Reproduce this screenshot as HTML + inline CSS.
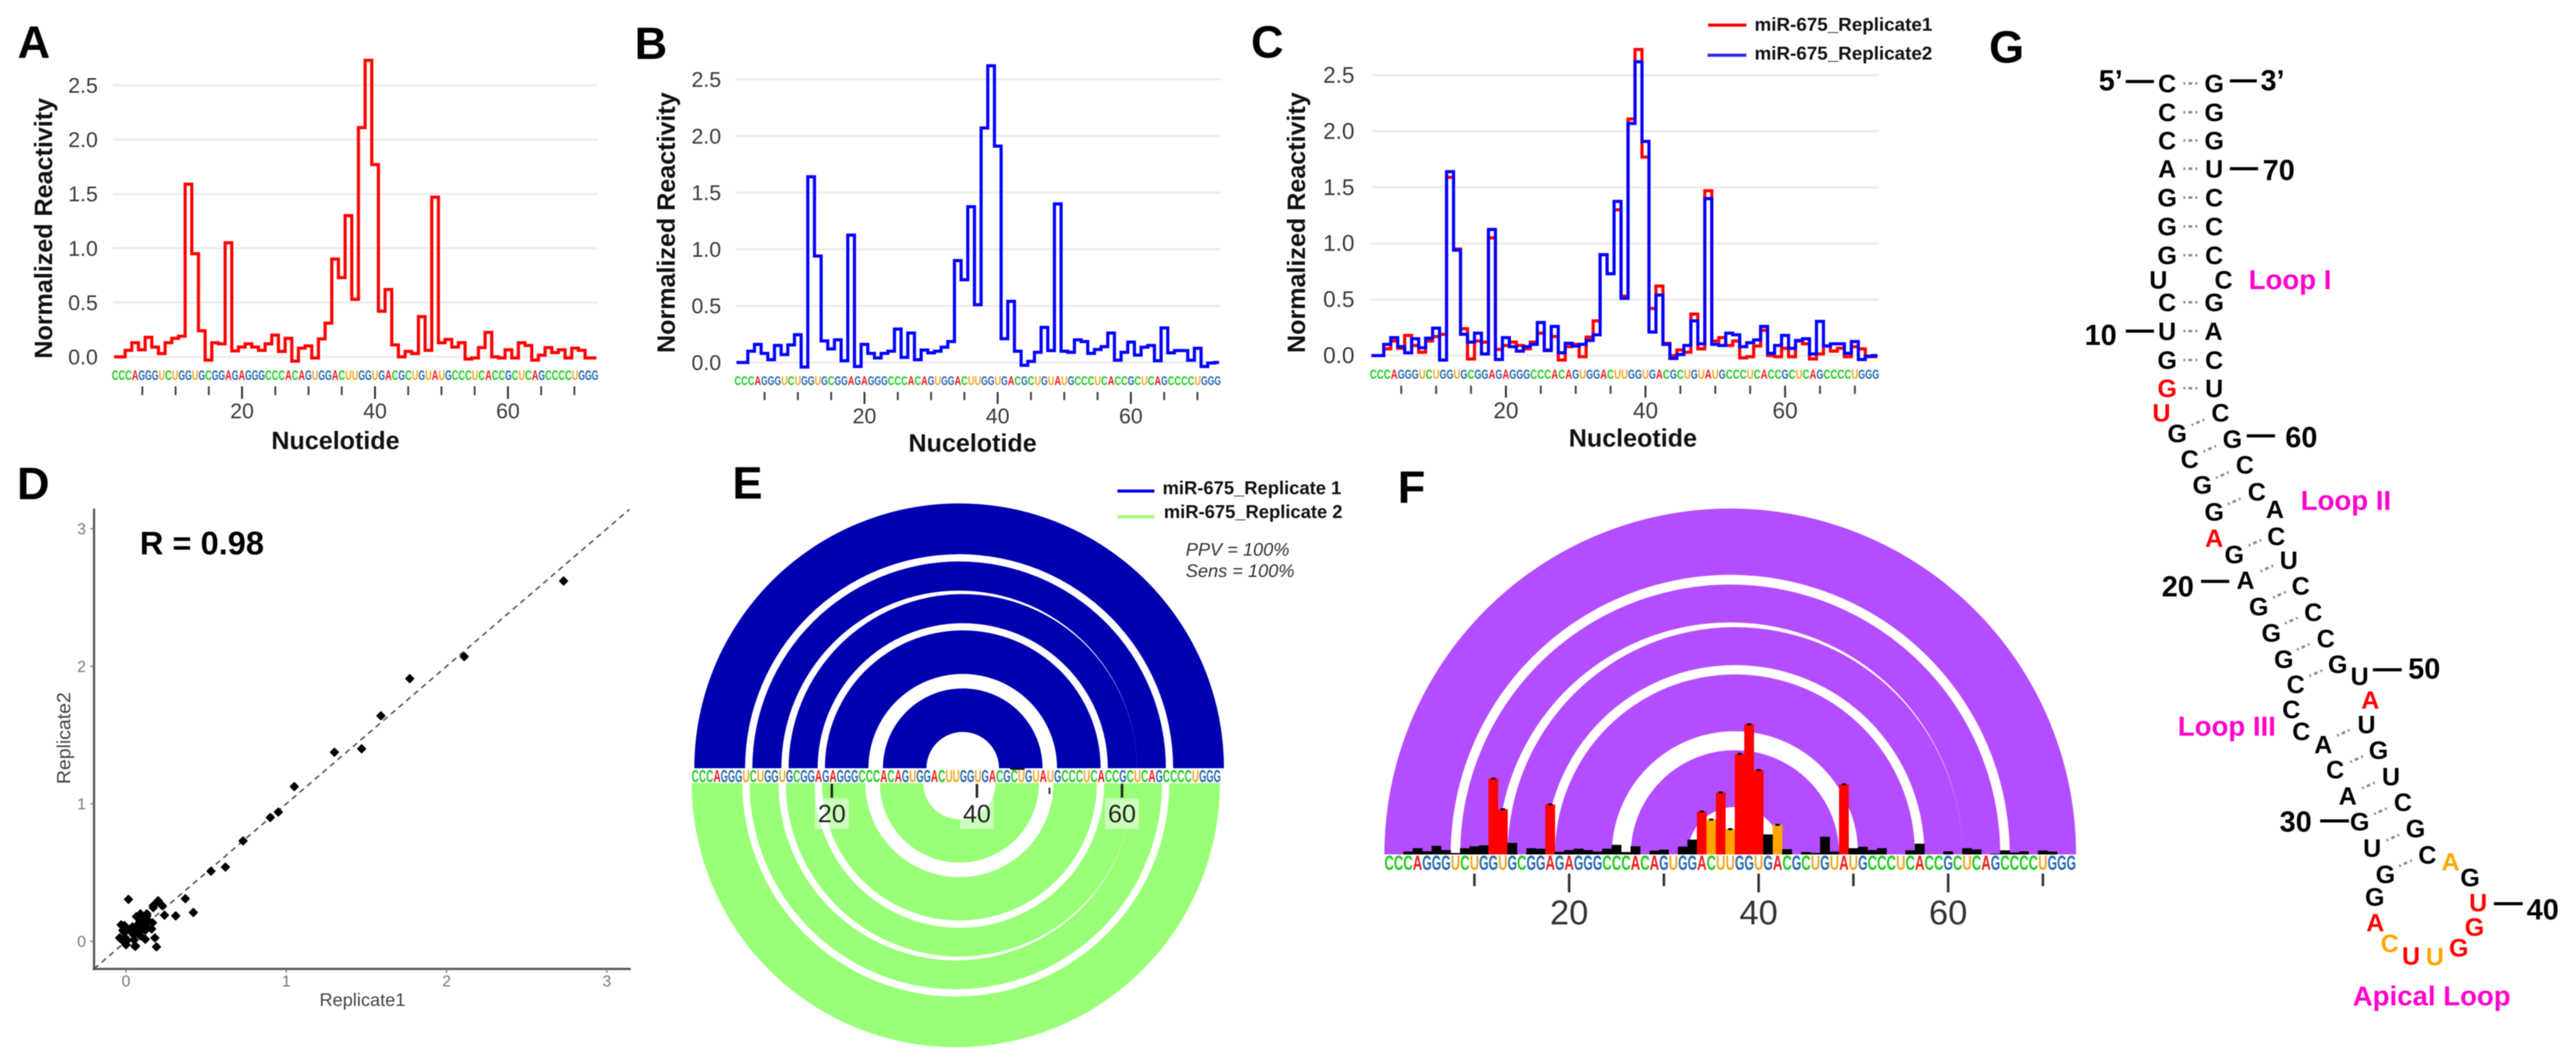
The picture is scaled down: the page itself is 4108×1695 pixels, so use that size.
<!DOCTYPE html>
<html lang="en">
<head>
<meta charset="utf-8">
<title>miR-675 SHAPE reactivity and secondary structure</title>
<style>
html,body{margin:0;padding:0;background:#fff;}
svg{display:block;filter:blur(0.9px);font-family:"Liberation Sans",Arial,sans-serif;}
.panel{font-size:72px;font-weight:bold;fill:#000;}
.title{font-size:40px;font-weight:bold;fill:#111;}
.leg{font-size:30px;font-weight:bold;fill:#111;}
.b{font-size:40px;font-weight:bold;fill:#000;text-anchor:middle;}
.r{fill:#ff0000;}
.o{fill:#ffa500;}
.n{font-size:46px;font-weight:bold;fill:#000;text-anchor:middle;}
.d{stroke:#000;stroke-width:5;}
.p{font-size:44px;font-weight:bold;fill:#ff00cc;}
.bp{stroke:#8a8a8a;stroke-width:4;stroke-dasharray:3 5 6 5 3;}
</style>
</head>
<body>
<svg id="fig" xmlns="http://www.w3.org/2000/svg" width="4108" height="1695" viewBox="0 0 4108 1695">
<rect x="0" y="0" width="4108" height="1695" fill="#fff"/>

<text class="panel" x="28" y="92">A</text>
<text class="panel" x="1012" y="94">B</text>
<text class="panel" x="1995" y="92">C</text>
<text class="panel" x="27" y="796">D</text>
<text class="panel" x="1168" y="795">E</text>
<text class="panel" x="2229" y="802">F</text>
<text class="panel" x="3172" y="100">G</text>

<text class="title" text-anchor="middle" transform="translate(83,364) rotate(-90)">Normalized Reactivity</text>
<text class="title" text-anchor="middle" x="535" y="716">Nucelotide</text>
<text class="title" text-anchor="middle" transform="translate(1076,355) rotate(-90)">Normalized Reactivity</text>
<text class="title" text-anchor="middle" x="1551" y="720">Nucelotide</text>
<text class="title" text-anchor="middle" transform="translate(2081,355) rotate(-90)">Normalized Reactivity</text>
<text class="title" text-anchor="middle" x="2604" y="712">Nucleotide</text>

<g id="panelA"></g>
<g id="panelB"></g>
<g id="panelC"></g>

<g>
<line x1="2724" y1="40" x2="2785" y2="40" stroke="#ff0000" stroke-width="5"/>
<text class="leg" x="2798" y="49">miR-675_Replicate1</text>
<line x1="2723" y1="88" x2="2785" y2="88" stroke="#2a2aff" stroke-width="5"/>
<text class="leg" x="2798" y="95">miR-675_Replicate2</text>
</g>

<g id="panelD"></g>
<text x="223" y="884" font-size="52" font-weight="bold" fill="#000">R = 0.98</text>
<text x="578" y="1604" font-size="29" fill="#444" text-anchor="middle">Replicate1</text>
<text font-size="31" fill="#444" text-anchor="middle" transform="translate(112,1177) rotate(-90)">Replicate2</text>

<g id="panelE"></g>
<g>
<line x1="1782" y1="783" x2="1841" y2="783" stroke="#0000e0" stroke-width="5"/>
<text x="1854" y="788" font-size="29.3" font-weight="bold" fill="#111">miR-675_Replicate 1</text>
<line x1="1782" y1="824" x2="1841" y2="824" stroke="#99ff77" stroke-width="5"/>
<text x="1856" y="826" font-size="29.3" font-weight="bold" fill="#111">miR-675_Replicate 2</text>
<text x="1891" y="886" font-size="29" font-style="italic" fill="#333">PPV = 100%</text>
<text x="1891" y="920" font-size="29" font-style="italic" fill="#333">Sens = 100%</text>
</g>

<g id="panelF"></g>

<g>
<g>
<line class="bp" x1="3482" y1="133" x2="3504" y2="133"/>
<line class="bp" x1="3482" y1="179" x2="3504" y2="179"/>
<line class="bp" x1="3482" y1="224" x2="3504" y2="224"/>
<line class="bp" x1="3482" y1="269" x2="3504" y2="269"/>
<line class="bp" x1="3482" y1="315" x2="3504" y2="315"/>
<line class="bp" x1="3482" y1="361" x2="3504" y2="361"/>
<line class="bp" x1="3482" y1="407" x2="3504" y2="407"/>
<line class="bp" x1="3482" y1="482" x2="3504" y2="482"/>
<line class="bp" x1="3482" y1="528" x2="3504" y2="528"/>
<line class="bp" x1="3482" y1="574" x2="3504" y2="574"/>
<line class="bp" x1="3482" y1="619" x2="3504" y2="619"/>
<line class="bp" x1="3495" y1="678" x2="3515" y2="669"/>
<line class="bp" x1="3514" y1="720" x2="3534" y2="711"/>
<line class="bp" x1="3534" y1="762" x2="3554" y2="753"/>
<line class="bp" x1="3553" y1="804" x2="3573" y2="795"/>
<line class="bp" x1="3586" y1="870" x2="3606" y2="861"/>
<line class="bp" x1="3605" y1="911" x2="3625" y2="902"/>
<line class="bp" x1="3625" y1="953" x2="3645" y2="944"/>
<line class="bp" x1="3644" y1="994" x2="3664" y2="985"/>
<line class="bp" x1="3663" y1="1036" x2="3683" y2="1027"/>
<line class="bp" x1="3683" y1="1078" x2="3703" y2="1069"/>
<line class="bp" x1="3727" y1="1173" x2="3747" y2="1164"/>
<line class="bp" x1="3748" y1="1215" x2="3768" y2="1206"/>
<line class="bp" x1="3767" y1="1257" x2="3787" y2="1248"/>
<line class="bp" x1="3786" y1="1298" x2="3806" y2="1289"/>
<line class="bp" x1="3806" y1="1340" x2="3826" y2="1331"/>
<line class="bp" x1="3826" y1="1381" x2="3846" y2="1372"/>
</g>
<g>
<text class="b" x="3456" y="147">C</text>
<text class="b" x="3531" y="147">G</text>
<text class="b" x="3456" y="193">C</text>
<text class="b" x="3531" y="193">G</text>
<text class="b" x="3456" y="238">C</text>
<text class="b" x="3531" y="238">G</text>
<text class="b" x="3456" y="283">A</text>
<text class="b" x="3531" y="283">U</text>
<text class="b" x="3456" y="329">G</text>
<text class="b" x="3531" y="329">C</text>
<text class="b" x="3456" y="375">G</text>
<text class="b" x="3531" y="375">C</text>
<text class="b" x="3456" y="421">G</text>
<text class="b" x="3531" y="421">C</text>
<text class="b" x="3442" y="460">U</text>
<text class="b" x="3546" y="460">C</text>
<text class="b" x="3456" y="496">C</text>
<text class="b" x="3531" y="496">G</text>
<text class="b" x="3456" y="542">U</text>
<text class="b" x="3530" y="542">A</text>
<text class="b" x="3456" y="588">G</text>
<text class="b" x="3531" y="588">C</text>
<text class="b r" x="3456" y="633">G</text>
<text class="b" x="3531" y="633">U</text>
<text class="b r" x="3447" y="672">U</text>
<text class="b" x="3541" y="672">C</text>
<text class="b" x="3472" y="705">G</text>
<text class="b" x="3560" y="714">G</text>
<text class="b" x="3492" y="746">C</text>
<text class="b" x="3580" y="755">C</text>
<text class="b" x="3512" y="787">G</text>
<text class="b" x="3599" y="798">C</text>
<text class="b" x="3531" y="830">G</text>
<text class="b" x="3628" y="826">A</text>
<text class="b r" x="3531" y="872">A</text>
<text class="b" x="3630" y="869">C</text>
<text class="b" x="3563" y="898">G</text>
<text class="b" x="3650" y="907">U</text>
<text class="b" x="3581" y="939">A</text>
<text class="b" x="3669" y="948">C</text>
<text class="b" x="3602" y="981">G</text>
<text class="b" x="3689" y="990">C</text>
<text class="b" x="3622" y="1023">G</text>
<text class="b" x="3709" y="1032">C</text>
<text class="b" x="3642" y="1065">G</text>
<text class="b" x="3728" y="1073">G</text>
<text class="b" x="3661" y="1105">C</text>
<text class="b" x="3763" y="1092">U</text>
<text class="b" x="3654" y="1145">C</text>
<text class="b r" x="3780" y="1130">A</text>
<text class="b" x="3670" y="1180">C</text>
<text class="b" x="3774" y="1169">U</text>
<text class="b" x="3705" y="1201">A</text>
<text class="b" x="3793" y="1210">G</text>
<text class="b" x="3724" y="1241">C</text>
<text class="b" x="3813" y="1252">U</text>
<text class="b" x="3744" y="1283">A</text>
<text class="b" x="3832" y="1293">C</text>
<text class="b" x="3763" y="1324">G</text>
<text class="b" x="3852" y="1335">G</text>
<text class="b" x="3783" y="1366">U</text>
<text class="b" x="3871" y="1377">C</text>
<text class="b o" x="3908" y="1388">A</text>
<text class="b" x="3804" y="1408">G</text>
<text class="b" x="3939" y="1413">G</text>
<text class="b" x="3787" y="1444">G</text>
<text class="b r" x="3952" y="1453">U</text>
<text class="b r" x="3788" y="1485">A</text>
<text class="b r" x="3946" y="1492">G</text>
<text class="b o" x="3811" y="1518">C</text>
<text class="b r" x="3921" y="1525">G</text>
<text class="b r" x="3845" y="1538">U</text>
<text class="b o" x="3883" y="1539">U</text>
</g>
<g>
<text class="n" x="3366" y="144">5’</text>
<line class="d" x1="3390" y1="130" x2="3435" y2="130"/>
<text class="n" x="3624" y="144">3’</text>
<line class="d" x1="3556" y1="129" x2="3599" y2="129"/>
<text class="n" x="3634" y="287">70</text>
<line class="d" x1="3556" y1="269" x2="3601" y2="269"/>
<text class="n" x="3350" y="550">10</text>
<line class="d" x1="3390" y1="528" x2="3435" y2="528"/>
<text class="n" x="3670" y="713">60</text>
<line class="d" x1="3583" y1="695" x2="3628" y2="695"/>
<text class="n" x="3473" y="951">20</text>
<line class="d" x1="3510" y1="927" x2="3555" y2="927"/>
<text class="n" x="3866" y="1082">50</text>
<line class="d" x1="3784" y1="1068" x2="3830" y2="1068"/>
<text class="n" x="3661" y="1326">30</text>
<line class="d" x1="3700" y1="1309" x2="3746" y2="1309"/>
<text class="n" x="4055" y="1466">40</text>
<line class="d" x1="3977" y1="1441" x2="4023" y2="1441"/>
</g>
<text class="p" x="3586" y="461">Loop I</text>
<text class="p" x="3669" y="813">Loop II</text>
<text class="p" x="3473" y="1173">Loop III</text>
<text class="p" x="3752" y="1603">Apical Loop</text>
</g>
</svg>

<script>
const sequence = "CCCAGGGUCUGGUGCGGAGAGGGCCCACAGUGGACUUGGUGACGCUGUAUGCCCUCACCGCUCAGCCCCUGGG";
const replicate1 = [0,0,0.06,0.13,0.065,0.18,0.09,0.03,0.13,0.17,0.19,1.59,0.95,0.24,-0.03,0.13,0.12,1.05,0.055,0.09,0.12,0.09,0.06,0.12,0.2,0.05,0.17,-0.04,0.08,0.1,-0.01,0.165,0.31,0.9,0.73,1.3,0.53,2.11,2.73,1.77,0.42,0.62,0.11,0,0.05,0.03,0.37,0.06,1.47,0.13,0.16,0.09,0.13,-0.02,-0.01,0.085,0.225,0,-0.01,0.065,-0.01,0.13,0.105,-0.03,0.015,0.085,0.04,0.065,-0.01,0.08,0.06,-0.01,-0.01];
const replicate2 = [0,0,0.1,0.16,0.08,0.025,0.15,0.07,0.155,0.245,-0.04,1.64,0.94,0.19,0.12,0.2,0.015,1.125,-0.035,0.16,0.08,0.04,0.08,0.1,0.295,0.045,0.26,0.025,0.11,0.085,0.1,0.135,0.185,0.9,0.73,1.375,0.51,2.07,2.62,1.91,0.21,0.54,0.1,-0.025,0.01,0.09,0.31,0.105,1.4,0.1,0.09,0.2,0.185,0.08,0.115,0.14,0.26,0.02,0.09,0.18,0.065,0.135,0.15,0.015,0.305,0.085,0.105,0.105,0.02,0.125,-0.035,-0.005,0];
const yTicks = [0, 0.5, 1, 1.5, 2, 2.5];
const xTicksMinor = [5, 10, 15, 25, 30, 35, 45, 50, 55, 65, 70];
const xTicksMajor = [20, 40, 60];
const scatterTicks = [0, 1, 2, 3];
const stems = [[1,7,67,73],[9,12,62,65],[14,17,58,61],[19,24,51,56],[27,32,43,48]];
const arcTicksMinorF = [10, 30, 50, 70];
const arcLabelTicks = [20, 40, 60];

const NS = "http://www.w3.org/2000/svg";
const baseColor = {A:"#f01c1c", C:"#1ecb1e", G:"#2468b0", U:"#f5a623"};

function make(tag, attrs, parent, txt) {
  const el = document.createElementNS(NS, tag);
  for (const k in attrs) el.setAttribute(k, attrs[k]);
  if (txt !== undefined) el.textContent = txt;
  parent.appendChild(el);
  return el;
}

function drawSequence(parent, x, baseline, size, step) {
  sequence.split("").forEach(function (ch, idx) {
    const i = idx + 1;
    const el = make("text", {x: x(i) - step / 2, y: baseline, "font-size": size, "font-weight": "bold", fill: baseColor[ch], textLength: step, lengthAdjust: "spacingAndGlyphs"}, parent, ch);
    
    
  });
}

function stepPath(values, x, y, x0, x1) {
  let d = "M" + x0 + " " + y(values[0]);
  values.forEach(function (v, idx) {
    if (idx > 0) d += "V" + y(v);
    const i = idx + 1;
    d += "H" + (i === values.length ? x1 : x(i + 0.5));
  });
  return d;
}

function reactivityChart(id, opt, seriesList) {
  const g = document.getElementById(id);
  const x = function (i) { return opt.x1 + (i - 1) * opt.step; };
  const y = function (v) { return opt.y0 - v * opt.unit; };
  yTicks.forEach(function (t) {
    const line = make("line", {x1: opt.gridL, x2: opt.gridR, y1: y(t), y2: y(t), stroke: "#ececec", "stroke-width": 3.5}, g);
    
    
    const lab = make("text", {x: opt.ylabR, y: y(t) + 12, "font-size": opt.tickFont, fill: "#3a3a3a", "text-anchor": "end"}, g, t.toFixed(1));
    
    
  });
  drawSequence(g, x, opt.seqBase, opt.seqFont, opt.step);
  xTicksMinor.forEach(function (t) {
    const tk = make("line", {x1: opt.tickX(t), x2: opt.tickX(t), y1: opt.tickTop, y2: opt.tickMinor, stroke: "#444", "stroke-width": 3}, g);
    
    
  });
  xTicksMajor.forEach(function (t) {
    const tk = make("line", {x1: opt.tickX(t), x2: opt.tickX(t), y1: opt.tickTop, y2: opt.tickMajor, stroke: "#333", "stroke-width": 3}, g);
    
    
    const lab = make("text", {x: opt.tickX(t), y: opt.labBase, "font-size": opt.tickFont, fill: "#3a3a3a", "text-anchor": "middle"}, g, String(t));
    
    
  });
  seriesList.forEach(function (s) {
    const p = make("path", {d: stepPath(s.values, x, y, opt.lineL, opt.lineR), fill: "none", stroke: s.color, "stroke-width": 5, "stroke-linejoin": "miter"}, g);
    
    
  });
}

reactivityChart("panelA", {
  x1: 183.6, step: 10.63, y0: 569, unit: 173.2, gridL: 180, gridR: 953, ylabR: 156, tickFont: 34,
  seqBase: 606, seqFont: 22, tickX: function (t) { return 386 + (t - 20) * 10.6; }, tickTop: 616, tickMinor: 630, tickMajor: 636,
  labBase: 667, lineL: 182, lineR: 951
}, [{values: replicate1, color: "#ff0000"}]);

reactivityChart("panelB", {
  x1: 1176.6, step: 10.63, y0: 578, unit: 180.6, gridL: 1173, gridR: 1946, ylabR: 1150, tickFont: 34,
  seqBase: 614, seqFont: 20, tickX: function (t) { return 1378.6 + (t - 20) * 10.62; }, tickTop: 625, tickMinor: 638, tickMajor: 644,
  labBase: 675, lineL: 1174.5, lineR: 1944
}, [{values: replicate2, color: "#0000ff"}]);

reactivityChart("panelC", {
  x1: 2190, step: 11.13, y0: 567, unit: 178.8, gridL: 2186, gridR: 2996, ylabR: 2160, tickFont: 36,
  seqBase: 604, seqFont: 21, tickX: function (t) { return 2401.5 + (t - 20) * 11.13; }, tickTop: 615, tickMinor: 628, tickMajor: 634,
  labBase: 667, lineL: 2187, lineR: 2994
}, [{values: replicate1, color: "#ff0000"}, {values: replicate2, color: "#0000ff"}]);

(function scatter() {
  const g = document.getElementById("panelD");
  const x = function (v) { return 201 + v * 255.6; };
  const y = function (v) { return 1501 - v * 219.3; };
  const diag = make("line", {x1: x(-0.2), y1: y(-0.2), x2: x(3.14), y2: y(3.14), stroke: "#555", "stroke-width": 2.5, "stroke-dasharray": "9 7"}, g);
  
  
  const axY = make("line", {x1: 150, x2: 150, y1: 811, y2: 1547, stroke: "#555", "stroke-width": 3.5}, g);
  
  
  const axX = make("line", {x1: 148, x2: 1006, y1: 1545, y2: 1545, stroke: "#555", "stroke-width": 3.5}, g);
  
  
  scatterTicks.forEach(function (t) {
    const tx = make("line", {x1: x(t), x2: x(t), y1: 1545, y2: 1551, stroke: "#777", "stroke-width": 2}, g);
    
    
    const lx = make("text", {x: x(t), y: 1573, "font-size": 25, fill: "#777", "text-anchor": "middle"}, g, String(t));
    
    
    const ty = make("line", {x1: 144, x2: 150, y1: y(t), y2: y(t), stroke: "#777", "stroke-width": 2}, g);
    
    
    const ly = make("text", {x: 137, y: y(t) + 9, "font-size": 25, fill: "#777", "text-anchor": "end"}, g, String(t));
    
    
  });
  replicate1.forEach(function (v, idx) {
    const cx = x(v), cy = y(replicate2[idx]), r = 6;
    const p = make("path", {d: "M" + cx + " " + (cy - r) + "L" + (cx + r) + " " + cy + "L" + cx + " " + (cy + r) + "L" + (cx - r) + " " + cy + "Z", fill: "#000", stroke: "#000", "stroke-width": 2.5, "stroke-linejoin": "round"}, g);
    
    
  });
})();

function drawRings(parent, x, base, upper, color, step) {
  const sOut = upper ? 1 : 0, sIn = upper ? 0 : 1;
  stems.forEach(function (st) {
    const a = x(st[0] - 0.5), b = x(st[1] + 0.5), c = x(st[2] - 0.5), d = x(st[3] + 0.5);
    const rO = (d - a) / 2, rI = (c - b) / 2;
    const path = "M" + a + " " + base + "A" + rO + " " + rO + " 0 0 " + sOut + " " + d + " " + base + "L" + c + " " + base + "A" + rI + " " + rI + " 0 0 " + sIn + " " + b + " " + base + "Z";
    const p = make("path", {d: path, fill: color}, parent);
    
    
  });
}

(function arcsE() {
  const g = document.getElementById("panelE");
  const xTop = function (u) { return 1113 + (u - 1) * 11.57; };
  const xBot = function (u) { return 1108.8 + (u - 1) * 11.54; };
  const xSeq = function (u) { return 1108.8 + (u - 1) * 11.56; };
  const xTick = function (t) { return 1326.5 + (t - 20) * 11.57; };
  drawRings(g, xBot, 1248.6, false, "#99ff77");
  arcLabelTicks.forEach(function (t) {
    const bg = make("rect", {x: xTick(t) - 27, y: 1273, width: 54, height: 49, fill: "#ffffff", "fill-opacity": 0.5}, g);
    
    
  });
  drawRings(g, xTop, 1225, true, "#0000b0");
  const cap = make("line", {x1: 1611, x2: 1634, y1: 1226, y2: 1226, stroke: "#111", "stroke-width": 3}, g);
  
  
  drawSequence(g, xSeq, 1247, 28, 11.56);
  arcLabelTicks.forEach(function (t) {
    const tk = make("line", {x1: xTick(t), x2: xTick(t), y1: 1250, y2: 1272, stroke: "#222", "stroke-width": 4}, g);
    
    
    const lab = make("text", {x: xTick(t), y: 1311, "font-size": 40, fill: "#222", "text-anchor": "middle"}, g, String(t));
    
    
  });
  const t50 = make("line", {x1: xTick(50), x2: xTick(50), y1: 1256, y2: 1266, stroke: "#333", "stroke-width": 3}, g);
  
  
})();

(function arcsF() {
  const g = document.getElementById("panelF");
  const x = function (u) { return 2207.7 + (u - 0.5) * 15.11; };
  const base = 1362.4;
  drawRings(g, x, base, true, "#b44dff");
  const barH = function (v) { return Math.max(v, 0) * 76; };
  replicate1.forEach(function (v, idx) {
    const i = idx + 1;
    const color = v >= 0.85 ? "#ff0000" : (v >= 0.5 ? "#ffa500" : "#000000");
    const h = barH(v);
    const bar = make("rect", {x: x(i) - 7.8, y: base - h, width: 15.6, height: h, fill: color}, g);
    
    
    if (v >= 0.5) {
      const err = make("rect", {x: x(i) - 3.5, y: base - h - 1.5, width: 7, height: 3, fill: "#000"}, g);
      
      
    }
  });
  drawSequence(g, x, 1387, 32, 15.11);
  arcTicksMinorF.forEach(function (t) {
    const tk = make("line", {x1: x(t), x2: x(t), y1: 1393, y2: 1413, stroke: "#333", "stroke-width": 4}, g);
    
    
  });
  arcLabelTicks.forEach(function (t) {
    const tk = make("line", {x1: x(t), x2: x(t), y1: 1393, y2: 1423, stroke: "#333", "stroke-width": 4}, g);
    
    
    const lab = make("text", {x: x(t), y: 1474, "font-size": 55, fill: "#333", "text-anchor": "middle"}, g, String(t));
    
    
  });
})();
</script>
</body>
</html>
